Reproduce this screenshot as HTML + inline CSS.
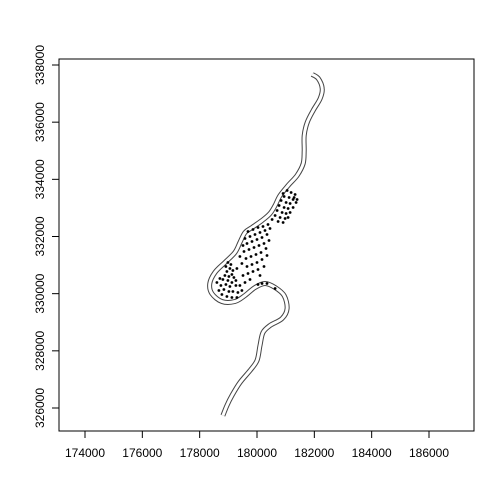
<!DOCTYPE html>
<html><head><meta charset="utf-8"><style>
html,body{margin:0;padding:0;background:#fff}
svg{display:block;font-family:"Liberation Sans",Arial,sans-serif}
</style></head><body>
<svg id="chart" width="504" height="504" viewBox="0 0 504 504">
<rect x="0" y="0" width="504" height="504" fill="#fff"/>
<g id="river"></g>
<g id="pts"></g>
<g id="axes"></g>
<rect x="59" y="59" width="415" height="372" fill="none" stroke="#000" stroke-width="1"/>
</svg>
<script>
const xTicks=[174000,176000,178000,180000,182000,184000,186000];
const yTicks=[326000,328000,330000,332000,334000,336000,338000];
const riverX=[181925,182135,182275,182205,181960,181750,181645,181645,181610,181400,181085,180805,180630,180455,180175,179825,179580,179405,179230,178880,178530,178355,178425,178775,179230,179580,179930,180280,180630,180945,181050,180875,180455,180210,180105,180000,179755,179405,179125,178950,178810];
const riverY=[337670,337530,337180,336830,336410,335990,335535,335010,334555,334135,333785,333435,333085,332805,332560,332315,332140,331790,331440,331090,330740,330355,330005,329725,329725,329935,330215,330355,330215,329935,329480,329130,328885,328640,328185,327660,327310,326890,326435,326085,325735];
const ptX=[181050,181190,181330,180945,181120,181260,180840,181015,181155,181365,180770,180945,181085,181260,180700,180875,181015,181155,180630,180805,180980,180525,180735,181085,180910,181295,181400,180910,
180385,180210,180035,179860,179685,180455,180280,180105,179930,179755,179580,180350,180175,180000,179825,179650,179510,180420,180245,180070,179895,179720,179545,180315,180140,179965,179790,179615,179405,180350,180175,180000,179825,179650,179475,180245,180035,179860,179685,179510,179300,180105,179755,179580,179405,
178985,179090,178915,179055,179160,178950,179125,178880,179020,179195,178810,178985,179125,178915,179055,178740,179265,178845,179020,178670,179160,179335,178775,178950,179125,179300,179475,178600,178705,179265,
180035,180175,180350,180630];
const ptY=[333610,333540,333470,333400,333365,333295,333260,333190,333155,333190,333085,333015,332980,333015,332910,332840,332805,332840,332735,332665,332630,332595,332525,332665,332490,333365,333295,333505,
332420,332350,332315,332245,332175,332280,332210,332140,332070,332000,331930,332070,331965,331895,331825,331755,331685,331860,331755,331685,331615,331545,331475,331580,331440,331370,331300,331230,331300,331335,331195,331090,331020,330950,331055,330950,330845,330775,330705,330635,330880,330635,330495,330390,330285,
331090,331020,330950,330880,330810,330775,330670,330635,330600,330565,330495,330460,330390,330320,330250,330285,330285,330145,330075,330110,330075,330040,329970,329900,329865,329865,330110,330390,330530,330460,
330320,330355,330355,330180];

const NS='http://www.w3.org/2000/svg';
const sx=v=>85+(v-174000)*(344/12000);
const sy=v=>408-(v-326000)*(343/12000);
function mk(tag,attrs,parent){const e=document.createElementNS(NS,tag);for(const k in attrs)e.setAttribute(k,attrs[k]);parent.appendChild(e);return e;}

const river=document.getElementById('river');
const P=riverX.map((x,i)=>[sx(x),sy(riverY[i])]);
let d='M'+P[0][0].toFixed(1)+' '+P[0][1].toFixed(1);
for(let i=0;i<P.length-1;i++){
  const p0=P[Math.max(i-1,0)],p1=P[i],p2=P[i+1],p3=P[Math.min(i+2,P.length-1)];
  const c1=[p1[0]+(p2[0]-p0[0])/6,p1[1]+(p2[1]-p0[1])/6];
  const c2=[p2[0]-(p3[0]-p1[0])/6,p2[1]-(p3[1]-p1[1])/6];
  d+=' C'+c1[0].toFixed(1)+' '+c1[1].toFixed(1)+' '+c2[0].toFixed(1)+' '+c2[1].toFixed(1)+' '+p2[0].toFixed(1)+' '+p2[1].toFixed(1);
}
const r1=mk('path',{d:d,fill:'none',stroke:'#444','stroke-width':5,'stroke-linejoin':'round','stroke-linecap':'butt'},river);


const r2=mk('path',{d:d,fill:'none',stroke:'#fff','stroke-width':3,'stroke-linejoin':'round','stroke-linecap':'butt'},river);



const pts=document.getElementById('pts');
ptX.forEach((x,i)=>{
  const c=mk('circle',{cx:sx(x).toFixed(1),cy:sy(ptY[i]).toFixed(1),r:1.4,fill:'#000'},pts);
  
  
});

const axes=document.getElementById('axes');
const xl=mk('line',{x1:sx(xTicks[0]),x2:sx(xTicks[xTicks.length-1]),y1:431,y2:431,stroke:'#000'},axes);


xTicks.forEach(t=>{
  const l=mk('line',{x1:sx(t),x2:sx(t),y1:431,y2:438,stroke:'#000'},axes);
  
  
  const tx=mk('text',{x:sx(t),y:457,'text-anchor':'middle','font-size':12,fill:'#000'},axes);
  tx.textContent=t;
  
  
});
const yl=mk('line',{x1:59,x2:59,y1:sy(yTicks[0]),y2:sy(yTicks[yTicks.length-1]),stroke:'#000'},axes);


yTicks.forEach(t=>{
  const y=sy(t);
  const l=mk('line',{x1:52,x2:59,y1:y,y2:y,stroke:'#000'},axes);
  
  
  const tx=mk('text',{x:0,y:0,'text-anchor':'middle','font-size':12,fill:'#000',transform:'translate(44,'+y+') rotate(-90)'},axes);
  tx.textContent=t;
  
  
});
</script>
</body></html>
